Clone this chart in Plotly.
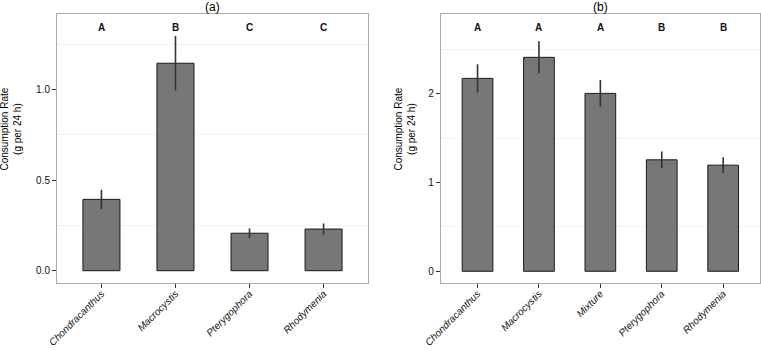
import plotly.graph_objects as go

# ---- data ----
cats_a = ["Chondracanthus", "Macrocystis", "Pterygophora", "Rhodymenia"]
mean_a = [0.394, 1.146, 0.207, 0.230]
se_a = [0.053, 0.150, 0.027, 0.031]
letters_a = ["A", "B", "C", "C"]

cats_b = ["Chondracanthus", "Macrocystis", "Mixture", "Pterygophora", "Rhodymenia"]
mean_b = [2.172, 2.409, 2.003, 1.255, 1.195]
se_b = [0.160, 0.180, 0.150, 0.095, 0.088]
letters_b = ["A", "A", "A", "B", "B"]

titles = ["(a)", "(b)"]
ytitle = "Consumption Rate<br>(g per 24 h)"

FONT = "Liberation Sans, Arial, Helvetica, sans-serif"
BAR_FILL = "#777777"
BORDER = "#aaaaaa"

fig = go.Figure()

fig.add_trace(go.Bar(
    x=cats_a, y=mean_a, width=0.5, xaxis="x", yaxis="y",
    marker=dict(color=BAR_FILL, line=dict(color="#1a1a1a", width=1)),
    error_y=dict(type="data", array=se_a, visible=True, width=0, thickness=1.6, color="#333333"),
    showlegend=False,
))
fig.add_trace(go.Bar(
    x=cats_b, y=mean_b, width=0.5, xaxis="x2", yaxis="y2",
    marker=dict(color=BAR_FILL, line=dict(color="#1a1a1a", width=1)),
    error_y=dict(type="data", array=se_b, visible=True, width=0, thickness=1.6, color="#333333"),
    showlegend=False,
))

W, H = 761, 350
dom_a = [57 / W, 368 / W]
dom_b = [440.7 / W, 760 / W]
ydom = [1 - 283 / H, 1 - 14 / H]

common_x = dict(
    type="category", showline=True, mirror=True, linecolor=BORDER, linewidth=1,
    ticks="outside", ticklen=4, tickcolor="#333333", tickwidth=1,
    tickangle=-45, showgrid=False, zeroline=False, automargin=False,
    ticklabelstandoff=-4,
    tickfont=dict(family=FONT, size=10, color="#111111", style="italic"),
)
common_y = dict(
    showline=True, mirror=True, linecolor=BORDER, linewidth=1,
    ticks="outside", ticklen=4, tickcolor="#333333", tickwidth=1,
    showgrid=False, zeroline=False, automargin=False,
    tickfont=dict(family=FONT, size=10, color="#111111"),
)

fig.update_layout(
    width=W, height=H,
    margin=dict(l=0, r=0, t=0, b=0),
    paper_bgcolor="white", plot_bgcolor="white",
    bargap=0.5,
    xaxis=dict(common_x, domain=dom_a, range=[-0.6, len(cats_a) - 0.4], anchor="y"),
    yaxis=dict(common_y, domain=ydom, range=[-0.068, 1.418], anchor="x",
               tickvals=[0, 0.5, 1.0], tickformat=".1f",
               minor=dict(tickvals=[0.25, 0.75, 1.25], showgrid=True, gridcolor="#f3f3f3", ticks="")),
    xaxis2=dict(common_x, domain=dom_b, range=[-0.6, len(cats_b) - 0.4], anchor="y2"),
    yaxis2=dict(common_y, domain=ydom, range=[-0.132, 2.897], anchor="x2",
                tickvals=[0, 1, 2], tickformat="d",
                minor=dict(tickvals=[0.5, 1.5, 2.5], showgrid=True, gridcolor="#f3f3f3", ticks="")),
)

ann = []
for c, l in zip(cats_a, letters_a):
    ann.append(dict(x=c, y=1.346, xref="x", yref="y", text="<b>" + l + "</b>", showarrow=False,
                    font=dict(family=FONT, size=10, color="#111111")))
for c, l in zip(cats_b, letters_b):
    ann.append(dict(x=c, y=2.75, xref="x2", yref="y2", text="<b>" + l + "</b>", showarrow=False,
                    font=dict(family=FONT, size=10, color="#111111")))

for t, d in zip(titles, [dom_a, dom_b]):
    ann.append(dict(x=(d[0] + d[1]) / 2, y=1 - 7 / H, xref="paper", yref="paper", text=t,
                    xanchor="center", yanchor="middle",
                    showarrow=False, font=dict(family=FONT, size=12, color="black")))

for xp in [10.5 / W, 404.5 / W]:
    ann.append(dict(x=xp, y=1 - 129 / H, xref="paper", yref="paper", text=ytitle,
                    textangle=-90, showarrow=False, xanchor="center", yanchor="middle",
                    font=dict(family=FONT, size=10, color="black")))

fig.update_layout(annotations=ann)

fig.write_html("out.html")
